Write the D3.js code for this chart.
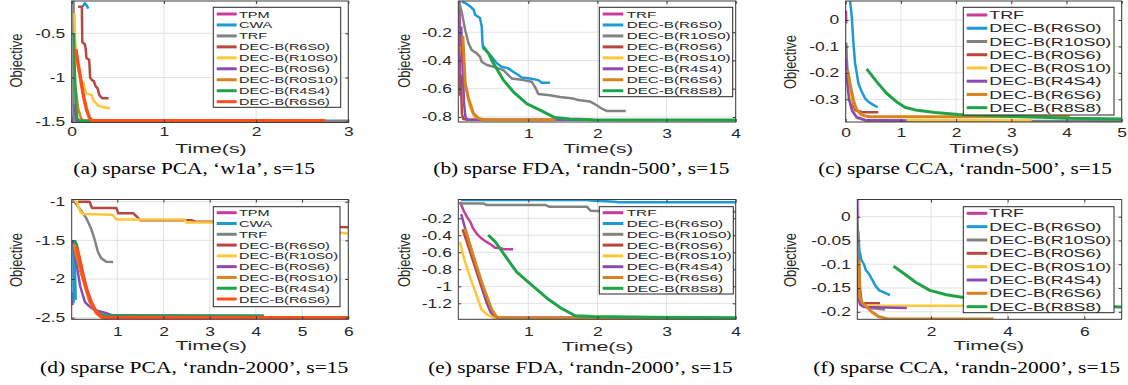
<!DOCTYPE html>
<html><head><meta charset="utf-8">
<script src="https://cdn.jsdelivr.net/npm/d3@7"></script>
<style>body{margin:0;background:#fff}svg{display:block}</style>
</head><body>
<svg id="chart" width="1128" height="385"></svg>
<script>
// ---------- legend names & colours ----------
const namesPCA = ['TPM','CWA','TRF','DEC-B(R6S0)','DEC-B(R10S0)','DEC-B(R0S6)','DEC-B(R0S10)','DEC-B(R4S4)','DEC-B(R6S6)'];
const namesOther = ['TRF','DEC-B(R6S0)','DEC-B(R10S0)','DEC-B(R0S6)','DEC-B(R0S10)','DEC-B(R4S4)','DEC-B(R6S6)','DEC-B(R8S8)'];
const colorsPCA = ['#c83c9b','#1b9ad6','#828282','#b8473f','#fdc738','#8b4bb5','#d8831f','#1fa348','#fc4f1d'];
const colorsOther = ['#c83c9b','#1b9ad6','#828282','#b8473f','#fdc738','#8b4bb5','#d8831f','#1fa348'];
const captions = ['(a) sparse PCA, \u2018w1a\u2019, s=15','(b) sparse FDA, \u2018randn-500\u2019, s=15','(c) sparse CCA, \u2018randn-500\u2019, s=15',
                  '(d) sparse PCA, \u2018randn-2000\u2019, s=15','(e) sparse FDA, \u2018randn-2000\u2019, s=15','(f) sparse CCA, \u2018randn-2000\u2019, s=15'];

// ---------- tick values ----------
const a_xTicks=[0,1,2,3], a_yTicks=[-1.5,-1,-0.5];
const b_xTicks=[1,2,3,4], b_yTicks=[-0.8,-0.6,-0.4,-0.2];
const c_xTicks=[0,1,2,3,4,5], c_yTicks=[-0.3,-0.2,-0.1,0];
const d_xTicks=[1,2,3,4,5,6], d_yTicks=[-2.5,-2,-1.5,-1];
const e_xTicks=[1,2,3,4], e_yTicks=[-1.2,-1,-0.8,-0.6,-0.4,-0.2];
const f_xTicks=[2,4,6], f_yTicks=[-0.2,-0.15,-0.1,-0.05,0];

// ---------- (a) sparse PCA, w1a : [time, objective] ----------
const a_TPM=[[0.01,-1.44],[0.02,-1.47],[0.03,-1.49]];
const a_CWA=[[0.12,-0.2],[0.14,-0.16],[0.16,-0.18],[0.18,-0.22]];
const a_TRF=[[0.02,-0.1],[0.02,-1.47],[0.04,-1.49],[3,-1.49]];
const a_R6S0=[[0.07,-0.2],[0.11,-0.2],[0.115,-0.6],[0.14,-0.62],[0.15,-0.66],[0.16,-0.78],[0.19,-0.8],[0.2,-1.0],[0.22,-1.03],[0.24,-1.04],[0.26,-1.1],[0.28,-1.12],[0.3,-1.2],[0.33,-1.235],[0.4,-1.235]];
const a_R10S0=[[0.03,-0.27],[0.035,-0.55],[0.06,-0.85],[0.1,-1.05],[0.126,-1.06],[0.14,-1.12],[0.16,-1.18],[0.217,-1.2],[0.235,-1.26],[0.264,-1.29],[0.29,-1.32],[0.325,-1.33],[0.415,-1.35]];
const a_R0S6=[[0.03,-1.3],[0.045,-1.45],[0.06,-1.49],[0.12,-1.49]];
const a_R0S10=[[0.04,-1.1],[0.07,-1.35],[0.1,-1.46],[0.13,-1.49],[0.55,-1.49]];
const a_R4S4=[[0.025,-0.5],[0.03,-0.8],[0.04,-1.1],[0.05,-1.35],[0.06,-1.46],[0.08,-1.49],[0.52,-1.49]];
const a_R6S6=[[0.045,-0.68],[0.07,-0.85],[0.09,-0.97],[0.11,-1.1],[0.13,-1.22],[0.16,-1.36],[0.19,-1.45],[0.22,-1.49],[2.75,-1.49]];

// ---------- (b) sparse FDA, randn-500 ----------
const b_TRF=[[0.005,0.02],[0.01,-0.3],[0.015,-0.65]];
const b_R6S0=[[0.04,0.017],[0.11,0.0],[0.16,-0.018],[0.21,-0.041],[0.23,-0.077],[0.3,-0.1],[0.327,-0.16],[0.337,-0.278],[0.35,-0.314],[0.4,-0.338],[0.47,-0.373],[0.544,-0.42],[0.616,-0.444],[0.71,-0.456],[0.78,-0.48],[0.856,-0.503],[0.904,-0.52],[1.025,-0.527],[1.145,-0.539],[1.193,-0.558],[1.313,-0.558]];
const b_R10S0=[[0.005,0.0],[0.04,-0.065],[0.087,-0.184],[0.135,-0.278],[0.18,-0.326],[0.255,-0.35],[0.3,-0.373],[0.327,-0.409],[0.4,-0.432],[0.495,-0.444],[0.64,-0.468],[0.71,-0.503],[0.76,-0.527],[0.93,-0.539],[1.05,-0.551],[1.1,-0.59],[1.145,-0.638],[1.31,-0.646],[1.457,-0.658],[1.65,-0.67],[1.72,-0.68],[1.89,-0.69],[1.99,-0.717],[2.06,-0.74],[2.13,-0.757],[2.41,-0.757]];
const b_R0S6=[[0.02,-0.5],[0.04,-0.78],[0.06,-0.815],[0.12,-0.82],[0.3,-0.82]];
const b_R0S10=[[0.03,-0.3],[0.08,-0.55],[0.15,-0.72],[0.22,-0.8],[0.3,-0.82],[0.5,-0.82]];
const b_R4S4=[[0.03,-0.16],[0.05,-0.45],[0.07,-0.7],[0.09,-0.8],[0.12,-0.82],[1.9,-0.82]];
const b_R6S6=[[0.053,-0.226],[0.087,-0.562],[0.135,-0.67],[0.207,-0.776],[0.28,-0.81],[0.35,-0.82],[1.4,-0.82]];
const b_R8S8=[[0.35,-0.302],[0.423,-0.35],[0.495,-0.42],[0.568,-0.48],[0.64,-0.539],[0.784,-0.622],[0.976,-0.705],[1.17,-0.752],[1.385,-0.804],[1.6,-0.815],[1.94,-0.82],[4,-0.822]];

// ---------- (c) sparse CCA, randn-500 ----------
const c_TRF=[[0.005,0.035],[0.008,-0.013]];
const c_R6S0=[[0.078,0.075],[0.11,0.0125],[0.14,-0.088],[0.17,-0.164],[0.2,-0.2],[0.23,-0.24],[0.29,-0.271],[0.35,-0.296],[0.41,-0.309],[0.5,-0.321],[0.58,-0.33]];
const c_R10S0=[[0.01,-0.085],[0.02,-0.15],[0.05,-0.25],[0.1,-0.33],[0.2,-0.37],[0.4,-0.382],[5,-0.382]];
const c_R0S6=[[0.03,-0.2],[0.08,-0.3],[0.15,-0.34],[0.3,-0.349],[0.59,-0.349]];
const c_R0S10=[[0.03,-0.2],[0.1,-0.33],[0.2,-0.37],[0.35,-0.378],[3.37,-0.38]];
const c_R4S4=[[0.0,-0.145],[0.03,-0.24],[0.06,-0.3],[0.12,-0.345],[0.2,-0.368],[0.35,-0.378],[1.1,-0.38]];
const c_R6S6=[[0.035,-0.189],[0.078,-0.24],[0.14,-0.303],[0.2,-0.34],[0.29,-0.359],[0.41,-0.366],[4.06,-0.366]];
const c_R8S8=[[0.38,-0.185],[0.56,-0.233],[0.74,-0.277],[0.92,-0.309],[1.07,-0.33],[1.26,-0.34],[1.62,-0.35],[2.04,-0.357],[2.83,-0.363],[3.55,-0.368],[4.03,-0.372],[5,-0.374]];

// ---------- (d) sparse PCA, randn-2000 ----------
const d_TPM=[[0.02,-2.17],[0.025,-2.25],[0.03,-2.34]];
const d_CWA=[[0.05,-1.5],[0.055,-2.3],[0.07,-1.55],[0.1,-2.27]];
const d_TRF=[[0.04,-0.978],[0.18,-1.085],[0.33,-1.215],[0.43,-1.344],[0.5,-1.47],[0.58,-1.647],[0.65,-1.73],[0.76,-1.776],[0.91,-1.78]];
const d_R6S0=[[0.15,-1.0],[0.4,-1.0],[0.45,-1.08],[0.98,-1.08],[1.02,-1.15],[1.35,-1.15],[1.5,-1.24],[2.6,-1.24],[2.7,-1.26],[3.9,-1.26],[4.0,-1.28],[5.2,-1.28],[5.3,-1.32],[6,-1.33]];
const d_R10S0=[[0.05,-1.0],[0.12,-1.0],[0.2,-1.13],[0.26,-1.16],[0.9,-1.17],[0.98,-1.23],[2.45,-1.23],[2.5,-1.27],[3.5,-1.27],[4.8,-1.36],[5.8,-1.4],[6,-1.41]];
const d_R0S6=[[0.03,-1.5],[0.1,-1.75],[0.2,-2.1],[0.3,-2.3],[0.37,-2.34],[0.5,-2.4],[0.75,-2.44],[0.9,-2.47],[4.17,-2.475]];
const d_R0S10=[[0.05,-1.55],[0.2,-1.9],[0.4,-2.3],[0.55,-2.45],[0.7,-2.5],[6,-2.5]];
const d_R4S4=[[0.08,-1.5],[0.12,-1.55],[0.2,-1.8],[0.3,-2.05],[0.4,-2.25],[0.5,-2.38],[0.6,-2.45],[0.75,-2.475],[4.17,-2.475]];
const d_R6S6=[[0.12,-1.58],[0.18,-1.73],[0.26,-1.95],[0.33,-2.12],[0.43,-2.29],[0.54,-2.42],[0.65,-2.49],[0.75,-2.5],[6,-2.5]];

// ---------- (e) sparse FDA, randn-2000 ----------
const e_TRF=[[0.014,-0.005],[0.06,-0.102],[0.11,-0.18],[0.16,-0.24],[0.2,-0.318],[0.25,-0.376],[0.32,-0.435],[0.39,-0.475],[0.47,-0.514],[0.52,-0.546],[0.59,-0.55],[0.66,-0.565],[0.78,-0.565]];
const e_R6S0=[[0.03,0.015],[1.85,0.015],[1.9,0.008],[2.25,-0.005],[2.3,-0.012],[4,-0.012]];
const e_R10S0=[[0.0,-0.025],[0.35,-0.025],[0.4,-0.044],[1.25,-0.044],[1.3,-0.063],[1.85,-0.065],[1.9,-0.11],[2.2,-0.12],[4,-0.122]];
const e_R0S6=[[0.05,-0.33],[0.1,-0.45],[0.2,-0.7],[0.3,-0.95],[0.4,-1.2],[0.48,-1.33],[0.55,-1.37],[2,-1.37]];
const e_R0S10=[[0.01,-0.48],[0.08,-0.7],[0.16,-0.9],[0.25,-1.1],[0.32,-1.27],[0.4,-1.33],[0.5,-1.37],[1.5,-1.37]];
const e_R4S4=[[0.03,-0.15],[0.08,-0.3],[0.15,-0.5],[0.25,-0.78],[0.35,-1.05],[0.45,-1.3],[0.55,-1.37],[2,-1.37]];
const e_R6S6=[[0.08,-0.32],[0.1,-0.36],[0.17,-0.55],[0.25,-0.76],[0.33,-0.96],[0.4,-1.12],[0.47,-1.27],[0.54,-1.36],[0.62,-1.375],[4,-1.375]];
const e_R8S8=[[0.42,-0.396],[0.52,-0.475],[0.64,-0.612],[0.83,-0.83],[1.05,-0.985],[1.27,-1.14],[1.48,-1.26],[1.68,-1.346],[1.94,-1.355],[2.8,-1.365],[4,-1.37]];

// ---------- (f) sparse CCA, randn-2000 ----------
const f_TRF=[[0.08,0.04],[0.085,0.0],[0.09,-0.004]];
const f_R6S0=[[0.1,-0.03],[0.13,-0.07],[0.18,-0.09],[0.25,-0.1],[0.3,-0.112],[0.38,-0.12],[0.45,-0.13],[0.55,-0.145],[0.65,-0.155],[0.8,-0.16],[0.93,-0.165]];
const f_R10S0=[[0.08,0.0],[0.1,-0.05],[0.12,-0.09],[0.15,-0.15],[0.2,-0.185],[0.4,-0.192],[0.8,-0.195]];
const f_R0S6=[[0.08,-0.12],[0.1,-0.16],[0.13,-0.178],[0.2,-0.182],[0.67,-0.182]];
const f_R0S10=[[0.08,-0.1],[0.1,-0.15],[0.13,-0.18],[0.2,-0.187],[5,-0.188]];
const f_R4S4=[[0.08,-0.09],[0.09,-0.14],[0.11,-0.17],[0.15,-0.185],[0.25,-0.19],[1.37,-0.192]];
const f_R6S6=[[0.12,-0.09],[0.14,-0.17],[0.2,-0.18],[0.3,-0.188],[0.45,-0.2],[0.63,-0.21],[0.89,-0.215],[3.63,-0.215]];
const f_R8S8=[[1.02,-0.104],[1.3,-0.12],[1.6,-0.138],[1.97,-0.155],[2.4,-0.164],[2.85,-0.17],[4,-0.18],[5.5,-0.187],[7,-0.19]];

// ---------- layout (positions / styles) ----------
const wPCA=[2.5,2.5,2.5,2.5,2.5,2.5,2.5,2.5,3.5];
const wOther=[2.5,2.5,2.5,2.5,2.5,2.5,3,3];
const panels=[
 {series:[a_TPM,a_CWA,a_TRF,a_R6S0,a_R10S0,a_R0S6,a_R0S10,a_R4S4,a_R6S6],names:namesPCA,colors:colorsPCA,widths:wPCA,
  L:71.7,R:348.3,T:1,B:122.5,xd:[0,3],yd:[-1.509,-0.1346],xt:a_xTicks,yt:a_yTicks,xlabY:136,
  leg:{x0:213.3,x1:340.7,y0:7.3,y1:107.3,e0:14,es:10.96,l0:216.7,l1:236.7,tx:239,fs:9.8,len:99},
  obj:[16.7,60.5],time:[211,153,71.5],cap:[194.2,174,241.7]},
 {series:[b_TRF,b_R6S0,b_R10S0,b_R0S6,b_R0S10,b_R4S4,b_R6S6,b_R8S8],names:namesOther,colors:colorsOther,widths:wOther,
  L:458.3,R:735.7,T:1,B:122,xd:[-0.0126,4],yd:[-0.8355,0.0208],xt:b_xTicks,yt:b_yTicks,xlabY:137.5,
  leg:{x0:599.3,x1:732.7,y0:7.3,y1:96.7,e0:14,es:10.96,l0:602.7,l1:623.3,tx:626.7,fs:9.8,len:104},
  obj:[404.3,60.8],time:[598.3,153,70],cap:[581.3,174,296]},
 {series:[c_TRF,c_R6S0,c_R10S0,c_R0S6,c_R0S10,c_R4S4,c_R6S6,c_R8S8],names:namesOther,colors:colorsOther,widths:wOther,
  L:845.7,R:1121.7,T:1,B:122,xd:[0,5],yd:[-0.3858,0.0719],xt:c_xTicks,yt:c_yTicks,xlabY:137,
  leg:{x0:963.3,x1:1114,y0:7.3,y1:115,e0:15,es:13.24,l0:966.7,l1:987.3,tx:989.3,fs:11.3,len:122},
  obj:[790.5,62],time:[984.3,153,70],cap:[965,174,293.4]},
 {series:[d_TPM,d_CWA,d_TRF,d_R6S0,d_R10S0,d_R0S6,d_R0S10,d_R4S4,d_R6S6],names:namesPCA,colors:colorsPCA,widths:wPCA,
  L:71.7,R:348.3,T:199.5,B:319.3,xd:[0.013,6],yd:[-2.5213,-0.9715],xt:d_xTicks,yt:d_yTicks,xlabY:336,
  leg:{x0:213.3,x1:340,y0:206.7,y1:306.7,e0:212.7,es:10.79,l0:216.7,l1:236.7,tx:239,fs:9.8,len:99},
  obj:[16.7,260],time:[211,349.5,71.7],cap:[194.2,372.7,308.3]},
 {series:[e_TRF,e_R6S0,e_R10S0,e_R0S6,e_R0S10,e_R4S4,e_R6S6,e_R8S8],names:namesOther,colors:colorsOther,widths:wOther,
  L:458.3,R:735.7,T:199.5,B:319.3,xd:[-0.0126,4],yd:[-1.388,0.0212],xt:e_xTicks,yt:e_yTicks,xlabY:336,
  leg:{x0:599.3,x1:733.3,y0:206.7,y1:294,e0:212.7,es:10.8,l0:602.7,l1:623.3,tx:626.7,fs:9.8,len:105},
  obj:[404.3,260],time:[597.5,350.5,71.7],cap:[580.5,372.7,304.4]},
 {series:[f_TRF,f_R6S0,f_R10S0,f_R0S6,f_R0S10,f_R4S4,f_R6S6,f_R8S8],names:namesOther,colors:colorsOther,widths:wOther,
  L:857.3,R:1121.7,T:199.5,B:319.3,xd:[0.077,6.976],yd:[-0.2158,0.0362],xt:f_xTicks,yt:f_yTicks,xlabY:336,
  leg:{x0:963.3,x1:1114,y0:206.7,y1:312.7,e0:213.3,es:13.34,l0:966.7,l1:987.3,tx:989.3,fs:11.3,len:122},
  obj:[790.5,260],time:[988.7,350,70.7],cap:[966.7,372.7,306.7]}
];

const svg=d3.select('#chart');
svg.append('rect').attr('width',1128).attr('height',385).attr('fill','#fff');
const AX='#3a3a3a', TXT='#262626', GRID='#e2e2e2', SANS='"Liberation Sans", Arial, sans-serif';

function stretch(sel,f){sel.each(function(){const L=this.getComputedTextLength();this.setAttribute('textLength',L*f);this.setAttribute('lengthAdjust','spacingAndGlyphs');});}

panels.forEach((p,pi)=>{
  const x=d3.scaleLinear().domain(p.xd).range([p.L,p.R]);
  const y=d3.scaleLinear().domain(p.yd).range([p.B,p.T]);
  const g=svg.append('g');
  // grid
  g.append('g').selectAll('line').data(p.xt).join('line')
    .attr('x1',d=>x(d)).attr('x2',d=>x(d)).attr('y1',p.T).attr('y2',p.B).attr('stroke',GRID).attr('stroke-width',1);
  g.append('g').selectAll('line').data(p.yt).join('line')
    .attr('y1',d=>y(d)).attr('y2',d=>y(d)).attr('x1',p.L).attr('x2',p.R).attr('stroke',GRID).attr('stroke-width',1);
  // clip
  const cid='clip'+pi;
  svg.append('clipPath').attr('id',cid).append('rect').attr('x',p.L).attr('y',p.T).attr('width',p.R-p.L).attr('height',p.B-p.T);
  const line=d3.line().x(d=>x(d[0])).y(d=>y(d[1]));
  g.append('g').attr('clip-path','url(#'+cid+')').selectAll('path').data(p.series).join('path')
    .attr('d',line).attr('fill','none').attr('stroke',(d,i)=>p.colors[i]).attr('stroke-width',(d,i)=>p.widths[i])
    .attr('stroke-linejoin','round').attr('stroke-linecap','butt');
  // axes
  const fmt=d=>String(d);
  const yl=g.append('g').attr('transform',`translate(${p.L},0)`).call(d3.axisLeft(y).tickValues(p.yt).tickFormat(fmt).tickSizeInner(-3).tickSizeOuter(0).tickPadding(6.5));
  const yr=g.append('g').attr('transform',`translate(${p.R},0)`).call(d3.axisRight(y).tickValues(p.yt).tickFormat('').tickSizeInner(-3).tickSizeOuter(0));
  const xb=g.append('g').attr('transform',`translate(0,${p.B})`).call(d3.axisBottom(x).tickValues(p.xt).tickFormat(fmt).tickSizeInner(-3).tickSizeOuter(0));
  const xt=g.append('g').attr('transform',`translate(0,${p.T})`).call(d3.axisTop(x).tickValues(p.xt).tickFormat('').tickSizeInner(-3).tickSizeOuter(0));
  [yl,yr,xb,xt].forEach(a=>{a.select('.domain').remove();a.selectAll('line').attr('stroke',AX);});
  xb.selectAll('text').attr('y',null).attr('dy',null).attr('transform',null).attr('y',p.xlabY-p.B);
  g.selectAll('.tick text').attr('fill',TXT).attr('font-family',SANS).attr('font-size',12);
  stretch(yl.selectAll('text'),1.45); stretch(xb.selectAll('text'),1.45);
  // box
  g.append('rect').attr('x',p.L).attr('y',p.T).attr('width',p.R-p.L).attr('height',p.B-p.T)
    .attr('fill','none').attr('stroke',AX).attr('stroke-width',1);
  // legend
  const lg=p.leg;
  g.append('rect').attr('x',lg.x0).attr('y',lg.y0).attr('width',lg.x1-lg.x0).attr('height',lg.y1-lg.y0)
    .attr('fill','#fff').attr('stroke',TXT).attr('stroke-width',1);
  const items=g.append('g').selectAll('g').data(p.names).join('g');
  items.append('line').attr('x1',lg.l0).attr('x2',lg.l1).attr('y1',(d,i)=>lg.e0+i*lg.es).attr('y2',(d,i)=>lg.e0+i*lg.es)
    .attr('stroke',(d,i)=>p.colors[i]).attr('stroke-width',3);
  const lt=items.append('text').attr('x',lg.tx).attr('y',(d,i)=>lg.e0+i*lg.es).attr('dy','0.36em')
    .attr('font-family',SANS).attr('font-size',lg.fs).attr('fill',TXT).text(d=>d);
  let maxL=0; lt.each(function(){maxL=Math.max(maxL,this.getComputedTextLength());});
  stretch(lt,lg.len/maxL);
  // axis titles
  g.append('text').attr('transform',`translate(${p.obj[0]},${p.obj[1]}) rotate(-90) scale(1,1.35)`)
    .attr('text-anchor','middle').attr('dy','0.35em').attr('font-family',SANS).attr('font-size',12).attr('fill',TXT)
    .attr('textLength',54).attr('lengthAdjust','spacingAndGlyphs').text('Objective');
  g.append('text').attr('x',p.time[0]).attr('y',p.time[1]).attr('text-anchor','middle').attr('font-family',SANS)
    .attr('font-size',13).attr('fill',TXT).attr('textLength',p.time[2]).attr('lengthAdjust','spacingAndGlyphs').text('Time(s)');
  g.append('text').attr('x',p.cap[0]).attr('y',p.cap[1]).attr('text-anchor','middle').attr('font-family','"Liberation Serif", "Times New Roman", serif')
    .attr('font-size',17.5).attr('fill','#000').attr('textLength',p.cap[2]).attr('lengthAdjust','spacingAndGlyphs').text(captions[pi]);
});
</script>
</body></html>
